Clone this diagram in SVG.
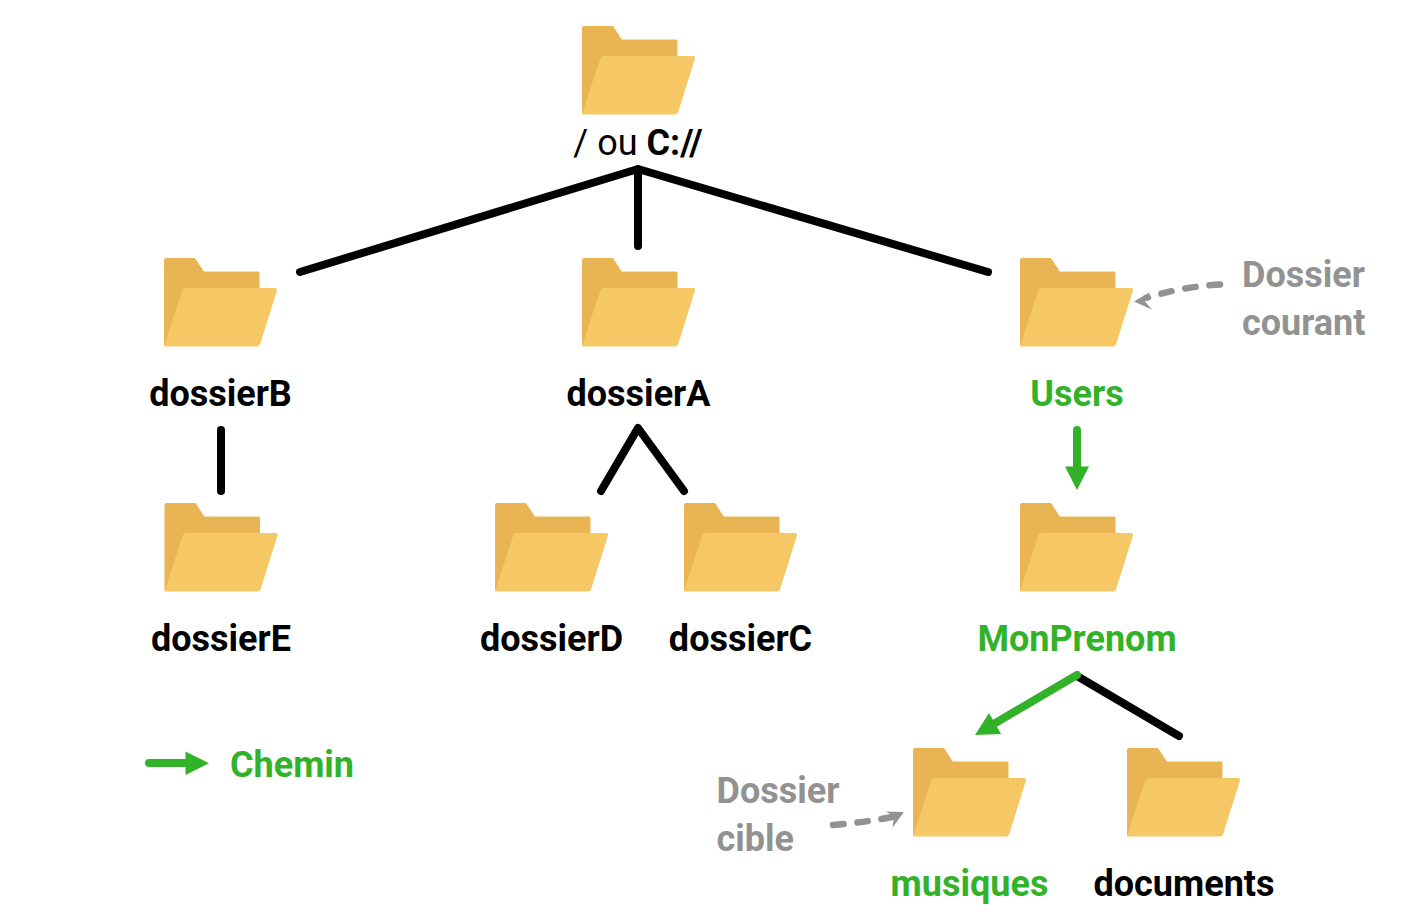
<svg xmlns="http://www.w3.org/2000/svg" xmlns:xlink="http://www.w3.org/1999/xlink" width="1405" height="920" viewBox="0 0 1405 920">
<style>
text{font-family:Roboto,"Liberation Sans",sans-serif;font-size:36px;font-weight:700;text-anchor:middle}
.k{fill:#000}.g{fill:#32b228}.n{fill:#929292}
.s{text-anchor:start}
.l{fill:none;stroke:#000;stroke-width:8;stroke-linecap:round;stroke-linejoin:round}
.p{fill:none;stroke:#32b228;stroke-width:8;stroke-linecap:round;stroke-linejoin:round}
.d{fill:none;stroke:#929292;stroke-width:6.500;stroke-linecap:round;stroke-dasharray:10.500 14}
</style>
<defs>
<g id="folder">
<path d="M0 2Q0 0 2 0H31L39.800 13.400H94Q95.500 13.400 95.500 15V60H20L0 88Z" fill="#e9b454"/>
<path d="M0 88.300 Q0 88.400 2 88.400H93Q95 88.400 96 86.500L113 32.500Q113.500 30 111 30H22Q19 30 18 33Z" fill="#f6c765"/>
</g>
</defs>
<g id="connectors">
<path class="l" d="M300 272L638 169L988 272M638 169V246"/>
<path class="l" d="M221 430V491"/>
<path class="l" d="M601 491L638 428L684 491"/>
<path class="l" d="M1077 676L1179 736"/>
<path class="p" d="M1077 430V470"/>
<path d="M1065 466.500H1089L1077 490Z" fill="#32b228"/>
<path class="p" d="M1077 675L992 725"/>
<path d="M989 713L1001 734L975 735Z" fill="#32b228"/>
<path class="p" d="M149 763H190"/>
<path d="M185.500 751.500L209 763.300L185.500 775Z" fill="#32b228"/>
<path class="d" d="M1220 284.500C1195 286 1172 290 1146 298"/>
<path d="M1150 292L1134 301.500L1152 309.500L1144 300.500Z" fill="#929292"/>
<path class="d" d="M833 825C855 823 872 821 892 817"/>
<path d="M886 811.500L904 812L892.500 827.500L894 816.500Z" fill="#929292"/>
</g>
<g id="root"><use href="#folder" x="582" y="26"/><text x="638" y="155" style="font-weight:400" class="k">/ ou <tspan style="font-weight:700">C://</tspan></text></g>
<g id="dossierB"><use href="#folder" x="164" y="258"/><text x="220.500" y="406" class="k">dossierB</text></g>
<g id="dossierA"><use href="#folder" x="582" y="258"/><text x="638.500" y="406" class="k">dossierA</text></g>
<g id="users"><use href="#folder" x="1020" y="258"/><text x="1077" y="406" class="g">Users</text></g>
<g id="dossierE"><use href="#folder" x="164.500" y="503"/><text x="221" y="651" class="k">dossierE</text></g>
<g id="dossierD"><use href="#folder" x="495" y="503"/><text x="551.500" y="651" class="k">dossierD</text></g>
<g id="dossierC"><use href="#folder" x="684" y="503"/><text x="740.500" y="651" class="k">dossierC</text></g>
<g id="monprenom"><use href="#folder" x="1020" y="503"/><text x="1077" y="651" class="g">MonPrenom</text></g>
<g id="musiques"><use href="#folder" x="913" y="748"/><text x="969.500" y="896" class="g">musiques</text></g>
<g id="documents"><use href="#folder" x="1127" y="748"/><text x="1184" y="896" class="k">documents</text></g>
<g id="legend"><text x="230" y="777" class="g s">Chemin</text></g>
<g id="courant"><text x="1242" y="287" class="n s">Dossier</text><text x="1242" y="335" class="n s">courant</text></g>
<g id="cible"><text x="716.500" y="803" class="n s">Dossier</text><text x="716.500" y="851" class="n s">cible</text></g>
</svg>
